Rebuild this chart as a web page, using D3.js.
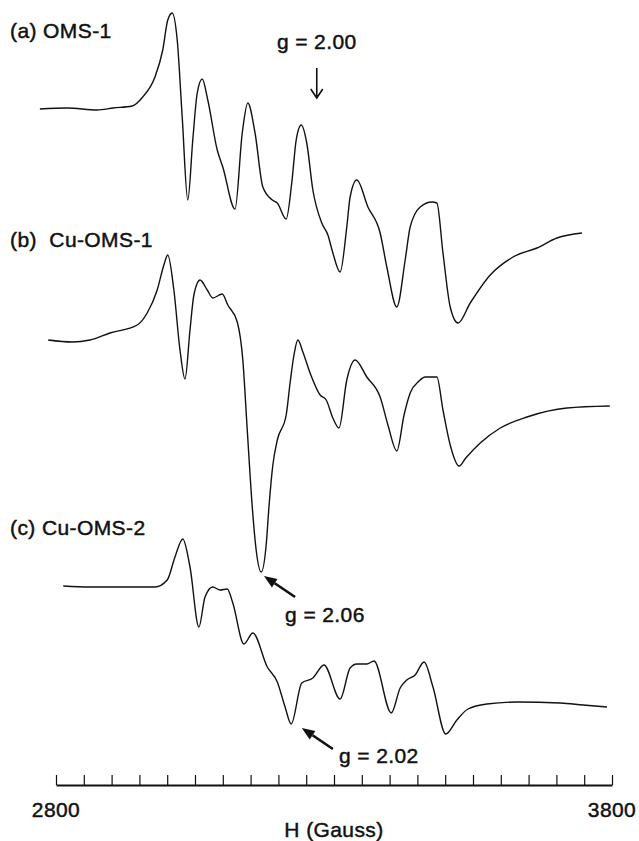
<!DOCTYPE html>
<html>
<head>
<meta charset="utf-8">
<script src="https://cdn.jsdelivr.net/npm/d3@7"></script>
<style>
  body { margin: 0; background: #fff; }
  text { font-family: "Liberation Sans", Arial, Helvetica, sans-serif; font-size: 21px; letter-spacing: 0.4px; fill: #111; stroke: #111; stroke-width: 0.45px; }
</style>
</head>
<body>
<script>
// EPR spectra, field in Gauss, signal in arbitrary units (derivative)
var fieldA = [2771, 2820, 2874, 2903, 2937, 2956, 2978, 2992, 3001, 3009, 3018, 3027, 3037, 3046, 3054, 3063, 3073, 3090, 3100, 3122,
              3135, 3145, 3158, 3172, 3189, 3198, 3214, 3224, 3232, 3241, 3251, 3262, 3278, 3289, 3298, 3311, 3323, 3329, 3341, 3361,
              3383, 3395, 3413, 3428, 3437, 3455, 3476, 3485, 3496, 3509, 3523, 3545, 3581, 3622, 3665, 3701, 3746];
var signalA = [0, 0.5, -0.5, 0.5, 1.5, 6, 16, 29.5, 44.5, 48, 34.5, -4, -45.5, -15.5, 8, 15, 4.5, -20.5, -29, -50,
               -12, 3, -12, -39, -45.5, -47, -55, -37, -15.5, -8, -17, -40.5, -57, -63, -72, -81.5, -59, -44, -35.5, -49,
               -62, -79, -99, -75.5, -59, -49, -46.5, -47, -72, -99, -107, -97, -83, -74, -69.5, -64.5, -62];

var fieldB = [2786, 2829, 2861, 2897, 2946, 2964, 2982, 2994, 3001, 3012, 3023, 3032, 3041, 3048, 3059, 3072, 3082, 3099, 3109, 3126,
              3136, 3144, 3153, 3160, 3169, 3178, 3183, 3190, 3198, 3214, 3221, 3228, 3235, 3244, 3257, 3275, 3286, 3298, 3309, 3323,
              3338, 3359, 3383, 3397, 3413, 3426, 3437, 3453, 3464, 3485, 3496, 3509, 3525, 3537, 3563, 3599, 3647, 3719, 3796];
var signalB = [0, -1, 0, 3.5, 7.5, 13.5, 25, 37.5, 42.5, 25, -5, -19.5, 5, 22.5, 30, 25, 21, 23, 17.5, 9,
               -10, -45, -83.5, -105, -116, -102.5, -83.5, -62.5, -50, -37.5, -21.5, -7.5, 0, -6, -16.5, -27.5, -30, -39, -44, -20,
               -10, -18.5, -28.5, -42.5, -55.5, -37.5, -26.5, -20.5, -18.5, -18.5, -35, -52.5, -63, -59, -51.5, -44, -38.5, -34, -33];

var fieldC = [2813, 2861, 2921, 2978, 3000, 3014, 3028, 3041, 3057, 3068, 3082, 3095, 3108, 3118, 3138, 3154, 3180, 3198, 3212, 3223,
              3242, 3262, 3282, 3311, 3329, 3341, 3359, 3372, 3403, 3419, 3431, 3446, 3462, 3478, 3501, 3521, 3541, 3575, 3629, 3707,
              3748, 3791];
var signalC = [0.5, 0, 0, 0, 3.5, 15, 24, 10, -20, -5, 0, -1.5, -1, -8, -28.5, -23, -40, -47.5, -60, -68.5,
               -48, -45.5, -39, -56, -40.5, -38.5, -38.5, -37, -63, -50.5, -46.5, -44, -37.5, -50, -73.5, -66.5, -61, -58.5, -57.5, -58,
               -59, -60];

var traceLabels = ["(a) OMS-1", "(b)  Cu-OMS-1", "(c) Cu-OMS-2"];
var tickValues = d3.range(2800, 3801, 50);
var tickLabels = ["2800", "3800"];
var axisTitle = "H (Gauss)";

var width = 639,
    height = 841;

var svg = d3.select("body").append("svg")
    .attr("width", width)
    .attr("height", height);

var x = d3.scaleLinear().domain([2800, 3800]).range([56, 612]),
    y = d3.scaleLinear().domain([0, -100]).range([109, 309]);

// vertical stacking of the three spectra
var offsets = [0, -115.5, -239];

var traces = [[fieldA, signalA], [fieldB, signalB], [fieldC, signalC]].map(function(t, i) {
  return {
    label: traceLabels[i],
    offset: offsets[i],
    values: t[0].map(function(f, j) { return {field: f, signal: t[1][j]}; })
  };
});

var line = d3.line()
    .curve(d3.curveMonotoneX)
    .x(function(d) { return x(d.field); });

svg.selectAll(".trace")
  .data(traces)
  .enter().append("path")
    .attr("class", "trace")
    .attr("d", function(t) {
      return line.y(function(d) { return y(t.offset + d.signal); })(t.values);
    })
    .attr("fill", "none")
    .attr("stroke", "#111")
    .attr("stroke-width", 1.4)
    .attr("stroke-linejoin", "round");

// trace labels
var labelY = [38, 247, 535];
svg.selectAll(".label")
  .data(traces)
  .enter().append("text")
    .attr("class", "label")
    .attr("x", 10)
    .attr("y", function(d, i) { return labelY[i]; })
    .style("white-space", "pre")
    .text(function(d) { return d.label; });

// g = 2.00 marker, thin down arrow
var gx = x(3269);
svg.append("text")
    .attr("x", gx)
    .attr("y", y(30))
    .attr("text-anchor", "middle")
    .text("g = 2.00");
svg.append("path")
    .attr("d", "M" + gx + "," + y(20.5) + "V" + y(5.5) +
               "M" + (gx - 6) + "," + (y(5.5) - 9) + "L" + gx + "," + y(5.5) + "L" + (gx + 6) + "," + (y(5.5) - 9))
    .attr("fill", "none")
    .attr("stroke", "#111")
    .attr("stroke-width", 1.6);

// solid arrows for g = 2.06 and g = 2.02
var notes = [
  {text: "g = 2.06", tip: [3174, -233.5], tail: [3230, -244], at: [3212, -256.5]},
  {text: "g = 2.02", tip: [3242, -309.5], tail: [3298, -320], at: [3309, -327]}
];

notes.forEach(function(n) {
  var x0 = x(n.tail[0]), y0 = y(n.tail[1]),
      x1 = x(n.tip[0]), y1 = y(n.tip[1]),
      a = Math.atan2(y1 - y0, x1 - x0),
      len = 13, half = 5;
  var bx = x1 - len * Math.cos(a), by = y1 - len * Math.sin(a);
  svg.append("line")
      .attr("x1", x0).attr("y1", y0)
      .attr("x2", bx).attr("y2", by)
      .attr("stroke", "#111")
      .attr("stroke-width", 2.6);
  svg.append("path")
      .attr("d", "M" + x1 + "," + y1 +
                 "L" + (bx + half * Math.sin(a)) + "," + (by - half * Math.cos(a)) +
                 "L" + (bx - half * Math.sin(a)) + "," + (by + half * Math.cos(a)) + "Z")
      .attr("fill", "#111");
  svg.append("text")
      .attr("x", x(n.at[0]))
      .attr("y", y(n.at[1]))
      .text(n.text);
});

// field axis
var axis = svg.append("g")
    .attr("class", "axis")
    .attr("transform", "translate(0,785)")
    .call(d3.axisTop(x).tickValues(tickValues).tickSize(10).tickSizeOuter(0).tickFormat(""));

axis.select(".domain").attr("stroke", "#111").attr("stroke-width", 1.8);
axis.selectAll(".tick line").attr("stroke", "#111").attr("stroke-width", 1.2);

svg.selectAll(".tlabel")
  .data(tickLabels)
  .enter().append("text")
    .attr("class", "tlabel")
    .attr("x", function(d) { return x(+d); })
    .attr("y", 817)
    .attr("text-anchor", "middle")
    .text(function(d) { return d; });

svg.append("text")
    .attr("x", x(3300))
    .attr("y", 837)
    .attr("text-anchor", "middle")
    .text(axisTitle);
</script>
</body>
</html>
